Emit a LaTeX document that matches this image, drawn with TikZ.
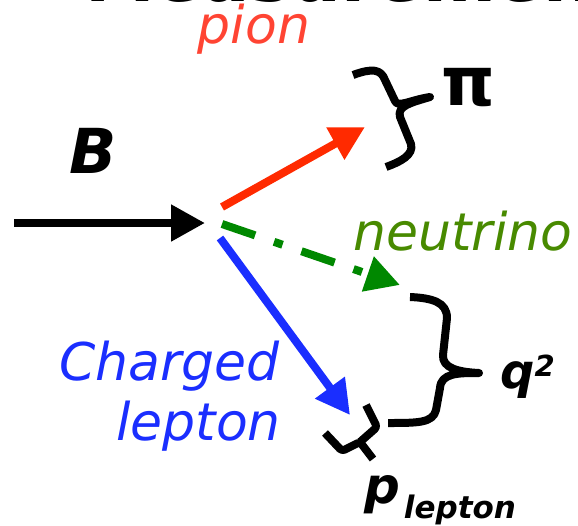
\documentclass[tikz,border=0pt]{standalone}
\usepackage{fontspec}
\setmainfont{DejaVu Sans}[ItalicFont={DejaVu Sans Oblique},BoldFont={DejaVu Sans Bold},BoldItalicFont={DejaVu Sans Bold Oblique}]
\usetikzlibrary{arrows.meta}
\definecolor{pionred}{RGB}{255,68,51}
\definecolor{arrred}{RGB}{255,42,0}
\definecolor{arrgreen}{RGB}{0,136,0}
\definecolor{nugreen}{RGB}{72,138,0}
\definecolor{lepblue}{RGB}{26,46,255}
\begin{document}
\begin{tikzpicture}[x=1pt,y=-1pt,
  arrowline/.style={line width=8pt,-{Triangle[length=34pt,width=35pt]}},
  bracestyle/.style={line width=8pt,line join=round},
  lab/.style={inner sep=0pt,anchor=base,font=\fontsize{52}{52}\selectfont\itshape},
  bold/.style={inner sep=0pt,font=\bfseries\itshape}]
\useasboundingbox (0,0) rectangle (578,525);
% cut-off title
\node[inner sep=0pt,anchor=base west,font=\fontsize{70}{70}\selectfont\bfseries] (title) at (85,1.5) {Measurement};
% labels
\node[lab,text=pionred] (pion) at (254,43) {pion};
\node[lab,text=nugreen] (neutrino) at (463,250) {neutrino};
\node[lab,text=lepblue,anchor=base east] (charged) at (280,380) {Charged};
\node[lab,text=lepblue,anchor=base east] (lepton) at (281,440) {lepton};
\node[bold,anchor=base,font=\fontsize{62}{62}\selectfont\bfseries\itshape] (B) at (93,173) {B};
\node[inner sep=0pt,anchor=base,font=\fontsize{68}{68}\selectfont\bfseries] (pi) at (468,105) {π};
\node[bold,anchor=base west,font=\fontsize{48}{48}\selectfont\bfseries\itshape] (q2) at (500,388) {q\raisebox{12pt}{\fontsize{29}{29}\selectfont 2}};
\node[bold,anchor=base west,font=\fontsize{50}{50}\selectfont\bfseries\itshape] (plep) at (364,503) {p\kern4pt\raisebox{-15pt}{\fontsize{31}{31}\selectfont lepton}};
% arrows
\coordinate (bS) at (14,223);
\coordinate (bE) at (205,223);
\coordinate (rS) at (222,207);
\coordinate (rE) at (365,127);
\coordinate (gS) at (222,224);
\coordinate (gE) at (400,285);
\coordinate (lS) at (220,238);
\coordinate (lE) at (350,415);
\draw[arrowline,black] (bS) -- (bE);
\draw[arrowline,arrred] (rS) -- (rE);
\draw[arrowline,arrgreen,dash pattern=on 35pt off 20pt on 9pt off 20pt] (gS) -- (gE);
\draw[arrowline,lepblue] (lS) -- (lE);
% braces
\draw[bracestyle] (353,75) .. controls (372,68) and (381,69) .. (385,80) -- (395,101)
  .. controls (398,108) and (410,100) .. (430,97)
  .. controls (410,103) and (397,106) .. (400,117) -- (411,144)
  .. controls (414,155) and (400,162) .. (386,167);
\draw[bracestyle] (410,297) .. controls (432,298) and (447,302) .. (447,318) -- (443,355)
  .. controls (442,368) and (458,372) .. (479,373)
  .. controls (458,373) and (441,373) .. (440,388) -- (436,410)
  .. controls (433,423) and (418,423) .. (388,423);
\draw[bracestyle,rounded corners=3pt] (325,433) -- (342,451) -- (360,442) -- (373,459);
\draw[bracestyle,rounded corners=3pt] (360,442) -- (377,427) -- (366,405);
\end{tikzpicture}
\end{document}
